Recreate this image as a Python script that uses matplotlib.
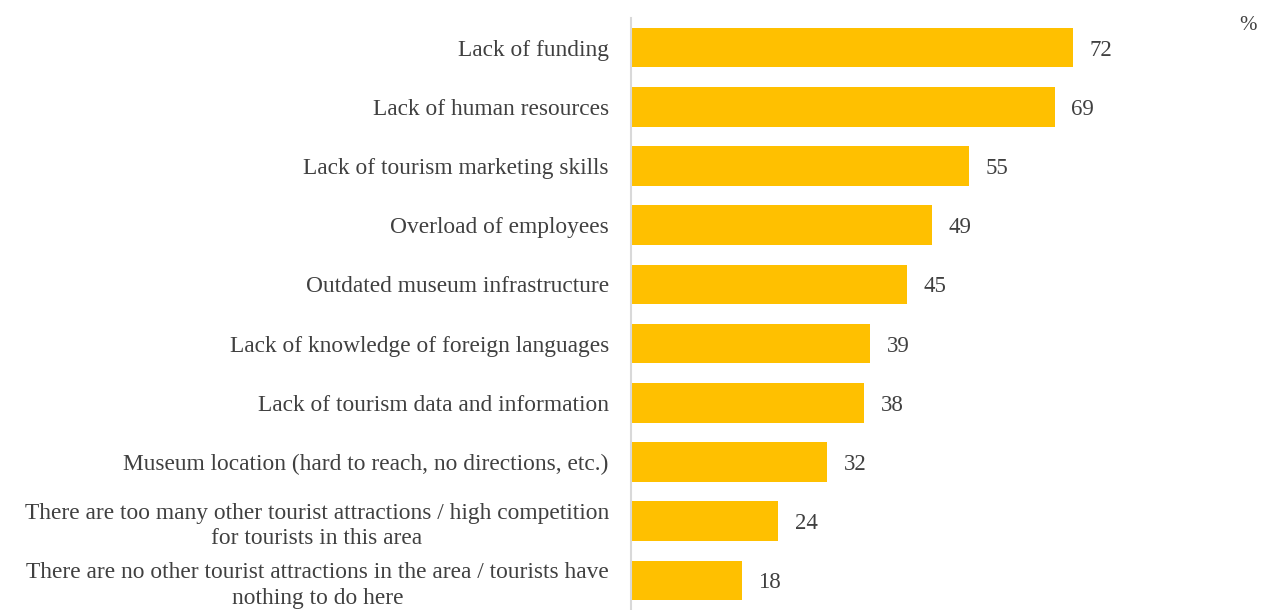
import matplotlib
matplotlib.use("Agg")
import matplotlib.pyplot as plt

categories = [
    "Lack of funding",
    "Lack of human resources",
    "Lack of tourism marketing skills",
    "Overload of employees",
    "Outdated museum infrastructure",
    "Lack of knowledge of foreign languages",
    "Lack of tourism data and information",
    "Museum location (hard to reach, no directions, etc.)",
    "There are too many other tourist attractions / high competition\nfor tourists in this area",
    "There are no other tourist attractions in the area / tourists have\nnothing to do here",
]
values = [72, 69, 55, 49, 45, 39, 38, 32, 24, 18]

plt.rcParams['font.family'] = ['Liberation Serif', 'DejaVu Serif']
text_color = '#404040'

fig = plt.figure(figsize=(12.63, 6.10), dpi=100)
ax = fig.add_axes([631/1263, 0.0, (1245-631)/1263, 1 - 18/610])

pos = list(range(len(categories)))
ax.barh(pos, values, height=0.67, color='#FFC000')
ax.set_ylim(len(categories) - 0.5, -0.5)
ax.set_xlim(0, 100)

for p, v in zip(pos, values):
    ax.annotate(str(v), (v, p), xytext=(12, 0), textcoords='offset points',
                va='center_baseline', ha='left', fontsize=16.5, color=text_color)

ax.set_yticks(pos)
ax.set_yticklabels(categories, fontsize=16.8, color=text_color,
                   linespacing=1.3)
for lbl in ax.get_yticklabels():
    lbl.set_horizontalalignment('right')
    lbl.set_multialignment('center')
ax.tick_params(axis='y', length=0, pad=16)
ax.set_xticks([])
for s in ['top', 'right', 'bottom']:
    ax.spines[s].set_visible(False)
ax.spines['left'].set_color('#D9D9D9')
ax.spines['left'].set_linewidth(1.5)

fig.text(1248/1263, 1 - 26/610, '%', ha='center', va='center',
         fontsize=15, color=text_color)

fig.savefig('out.png', dpi=100)
